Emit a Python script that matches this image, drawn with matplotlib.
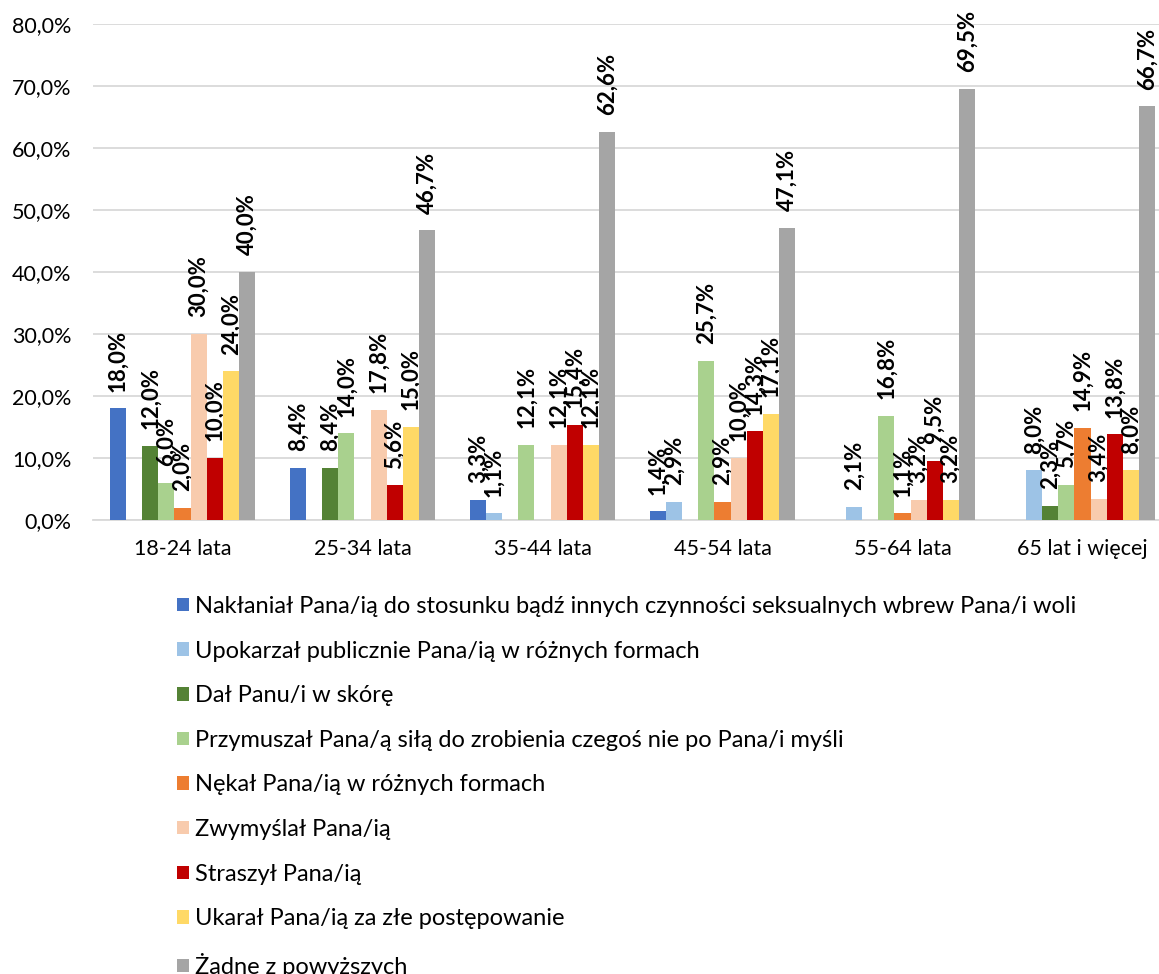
import matplotlib
matplotlib.use("Agg")
import matplotlib.pyplot as plt
from matplotlib.patches import Patch
import numpy as np

plt.rcParams['font.family'] = ['Lato', 'DejaVu Sans']

categories = ["18-24 lata", "25-34 lata", "35-44 lata", "45-54 lata", "55-64 lata", "65 lat i więcej"]
series_names = [
    "Nakłaniał Pana/ią do stosunku bądź innych czynności seksualnych wbrew Pana/i woli",
    "Upokarzał publicznie Pana/ią w różnych formach",
    "Dał Panu/i w skórę",
    "Przymuszał Pana/ą siłą do zrobienia czegoś nie po Pana/i myśli",
    "Nękał Pana/ią w różnych formach",
    "Zwymyślał Pana/ią",
    "Straszył Pana/ią",
    "Ukarał Pana/ią za złe postępowanie",
    "Żadne z powyższych",
]
naklanial = [18.0, 8.4, 3.3, 1.4, 0.0, 0.0]
upokarzal = [0.0, 0.0, 1.1, 2.9, 2.1, 8.0]
dal_w_skore = [12.0, 8.4, 0.0, 0.0, 0.0, 2.3]
przymuszal = [6.0, 14.0, 12.1, 25.7, 16.8, 5.7]
nekal = [2.0, 0.0, 0.0, 2.9, 1.1, 14.9]
zwymyslal = [30.0, 17.8, 12.1, 10.0, 3.2, 3.4]
straszyl = [10.0, 5.6, 15.4, 14.3, 9.5, 13.8]
ukaral = [24.0, 15.0, 12.1, 17.1, 3.2, 8.0]
zadne = [40.0, 46.7, 62.6, 47.1, 69.5, 66.7]
yticks = [0, 10, 20, 30, 40, 50, 60, 70, 80]

series = [naklanial, upokarzal, dal_w_skore, przymuszal, nekal, zwymyslal, straszyl, ukaral, zadne]
colors = ["#4472C4", "#9DC3E6", "#548235", "#A9D18E", "#ED7D31", "#F8CBAD", "#C00000", "#FFD966", "#A5A5A5"]

FS = 15.5
W, H = 1159, 974
fig = plt.figure(figsize=(W / 100, H / 100), dpi=100)
ax = fig.add_axes([92.5 / W, (H - 520) / H, 1080 / W, 496 / H])

x = np.arange(len(categories))
bw = 0.0895
n = len(series)
for j, (vals, col) in enumerate(zip(series, colors)):
    pos = x + (j - (n - 1) / 2) * bw
    ax.bar(pos, vals, width=bw, color=col, zorder=3)
    for px, v in zip(pos, vals):
        if v > 0:
            ax.annotate(f"{v:.1f}%".replace(".", ","), (px, v), xytext=(0, 12),
                        textcoords="offset points", rotation=90, ha="center", va="bottom",
                        fontsize=16, fontweight="bold", color="black", clip_on=False,
                        annotation_clip=False)

ax.set_xlim(-0.5, len(categories) - 0.5)
ax.set_ylim(0, 80)
ax.set_yticks(yticks)
ax.set_yticklabels([f"{t:.1f}%".replace(".", ",") for t in yticks])
ax.set_xticks(x)
ax.set_xticklabels(categories)
ax.tick_params(axis="both", length=0, labelsize=FS, colors="black")
ax.tick_params(axis="y", pad=15)
ax.tick_params(axis="x", pad=14)
ax.grid(axis="y", color="#D9D9D9", linewidth=1.3, zorder=0)
for s in ["top", "right", "left"]:
    ax.spines[s].set_visible(False)
ax.spines["bottom"].set_color("#D9D9D9")
ax.spines["bottom"].set_linewidth(1.3)

handles = [Patch(facecolor=c, edgecolor="none") for c in colors]
fig.legend(handles, series_names, loc="upper left", bbox_to_anchor=(177 / W, 1 - 596 / H),
           frameon=False, fontsize=17, handlelength=0.5, handleheight=0.5, handletextpad=0.25,
           labelspacing=1.0, borderpad=0, borderaxespad=0)

fig.savefig("out.png", dpi=100)
